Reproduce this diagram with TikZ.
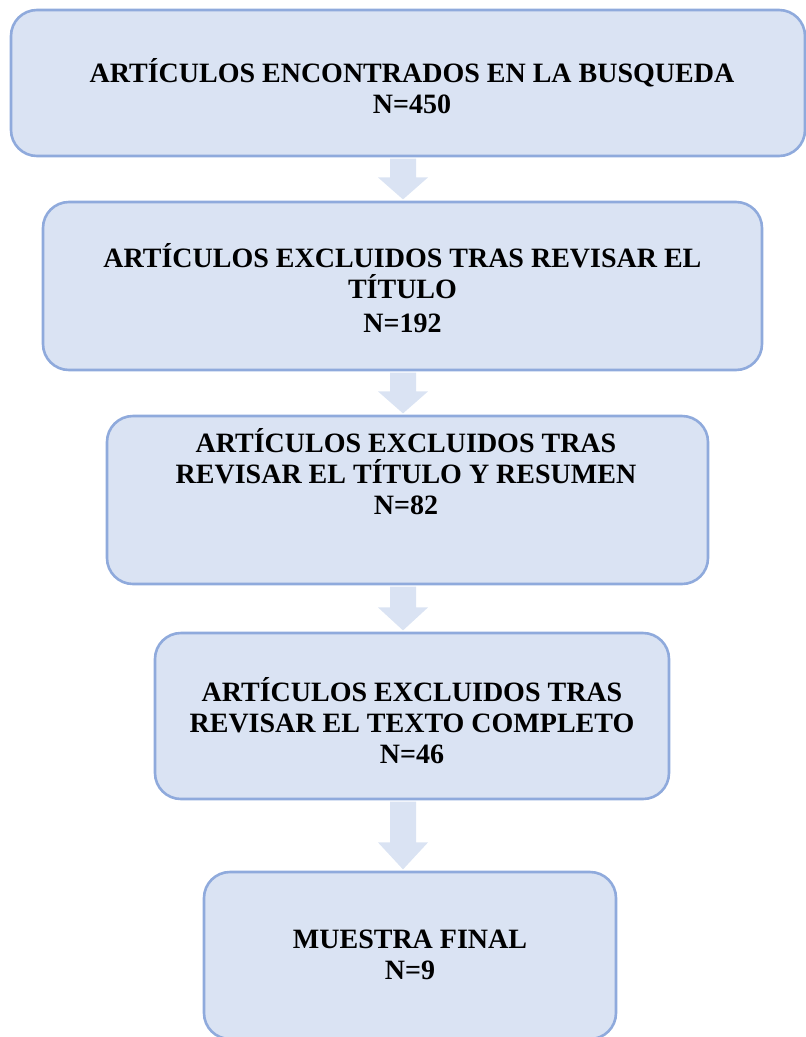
\documentclass[tikz,border=0pt]{standalone}
\usepackage{fontspec}
\setmainfont{Liberation Serif}
\usetikzlibrary{calc}
\definecolor{boxfill}{HTML}{DAE3F3}
\definecolor{boxline}{HTML}{8FAADC}
\tikzset{
  stagebox/.style={draw=boxline, fill=boxfill, line width=2.6pt,
    rounded corners=26pt, rectangle, inner sep=0pt},
  stagetext/.style={align=center, inner sep=0pt,
    font=\fontsize{28}{31}\selectfont\bfseries},
  flowarrow/.style={fill=boxfill, draw=none},
}
% shaft half-width, head half-width
\newcommand{\shw}{13}
\newcommand{\hhw}{25}
\begin{document}
\begin{tikzpicture}[x=1pt,y=-1pt]
\path[use as bounding box, clip] (0,0) rectangle (806,1037);
\coordinate (axis) at (403,0);

% stage boxes
\node[stagebox, minimum width=794pt, minimum height=146pt] (b1) at (408,83) {};
\node[stagebox, minimum width=719pt, minimum height=168pt] (b2) at (402.5,286) {};
\node[stagebox, minimum width=601pt, minimum height=168pt] (b3) at (407.5,500) {};
\node[stagebox, minimum width=514pt, minimum height=166pt] (b4) at (412,716) {};
\node[stagebox, minimum width=412pt, minimum height=167pt] (b5) at (410,955.5) {};

% block arrows between consecutive boxes
\foreach \a/\b/\h in {b1/b2/22, b2/b3/22, b3/b4/23, b4/b5/27}{
  \fill[flowarrow]
    ($(axis |- \a.south)+(-\shw,1.3)$) --
    ($(axis |- \b.north)+(-\shw,-\h-1.3)$) --
    ($(axis |- \b.north)+(-\hhw,-\h-1.3)$) --
    ($(axis |- \b.north)+(0,-1.3)$) --
    ($(axis |- \b.north)+(\hhw,-\h-1.3)$) --
    ($(axis |- \b.north)+(\shw,-\h-1.3)$) --
    ($(axis |- \a.south)+(\shw,1.3)$) -- cycle;
}

% labels
\node[stagetext] (t1) at (412,86) {ARTÍCULOS ENCONTRADOS EN LA BUSQUEDA\\N=450};
\node[stagetext] (t2) at (402.5,288) {ARTÍCULOS EXCLUIDOS TRAS REVISAR EL\\TÍTULO\\[3pt]N=192};
\node[stagetext] (t3) at (406,472) {ARTÍCULOS EXCLUIDOS TRAS\\REVISAR EL TÍTULO Y RESUMEN\\N=82};
\node[stagetext] (t4) at (412,721) {ARTÍCULOS EXCLUIDOS TRAS\\REVISAR EL TEXTO COMPLETO\\N=46};
\node[stagetext] (t5) at (410,955) {MUESTRA FINAL\\N=9};
\end{tikzpicture}
\end{document}
